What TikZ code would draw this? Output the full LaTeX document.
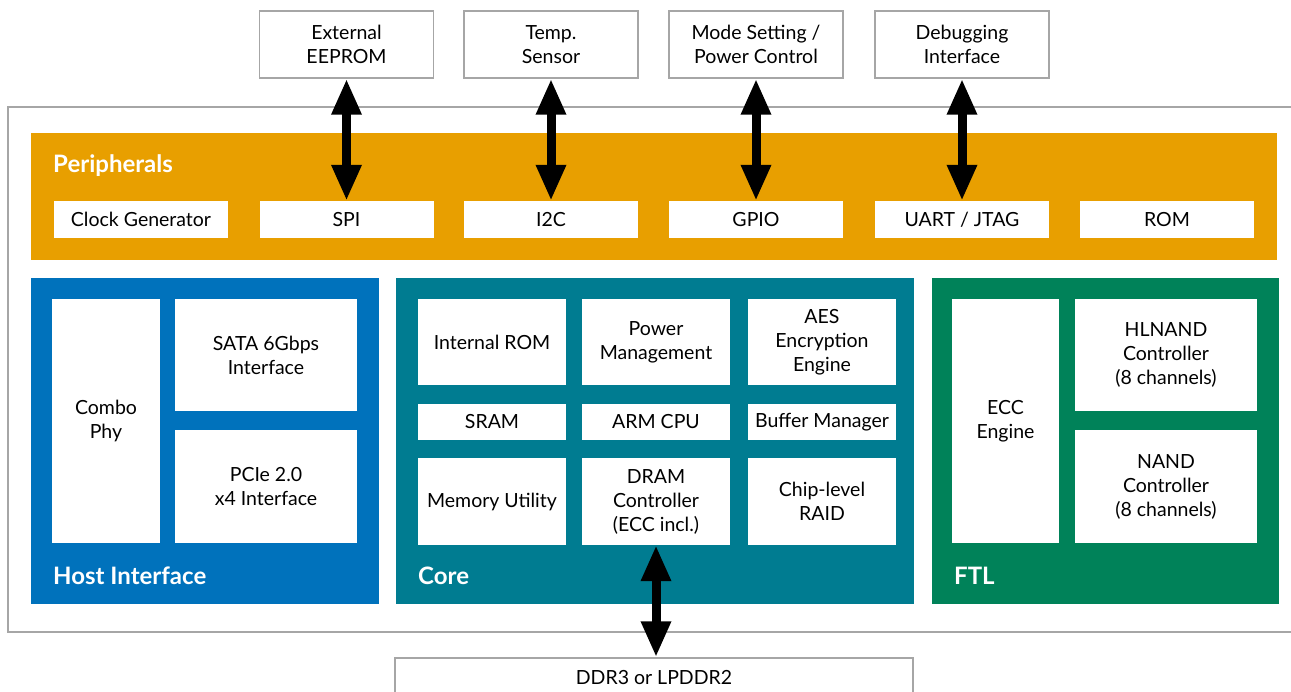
\documentclass[tikz,border=0pt]{standalone}
\usepackage{fontspec}
\setmainfont{Lato}
\definecolor{periorange}{RGB}{232, 159, 0}
\definecolor{hostblue}{RGB}{0, 114, 188}
\definecolor{coreteal}{RGB}{0, 124, 145}
\definecolor{ftlgreen}{RGB}{0, 130, 89}
\definecolor{framegray}{RGB}{166, 166, 166}
\usetikzlibrary{arrows.meta, positioning}

\tikzset{
  extbox/.style={draw=framegray, line width=1.5pt, fill=white, minimum width=174pt,
    minimum height=67pt, align=center, font=\fontsize{19.5}{24}\selectfont},
  unit/.style={fill=white, inner sep=0pt, align=center, font=\fontsize{19.5}{24}\selectfont},
  perunit/.style={unit, minimum width=174pt, minimum height=37pt},
  seclabel/.style={text=white, anchor=west, inner sep=0pt, font=\bfseries\fontsize{24}{28}\selectfont},
  bus/.style={line width=9pt, {Triangle[length=36pt,width=28pt]}-{Triangle[length=36pt,width=28pt]}}
}

\begin{document}
\begin{tikzpicture}[x=1pt, y=-1pt]
  \clip (0,0) rectangle (1291,692);
  \fill[white] (0,0) rectangle (1291,692);

  % outer chip frame
  \draw[framegray, line width=1.5pt] (8,107) rectangle (1310,632);

  % external devices
  \node[extbox] (eeprom) at (346.5,44.5) {External\\EEPROM};
  \node[extbox] (temp)   at (551,44.5)   {Temp.\\Sensor};
  \node[extbox] (mode)   at (756,44.5)   {Mode Setting /\\Power Control};
  \node[extbox] (debug)  at (962,44.5)   {Debugging\\Interface};

  % peripherals
  \fill[periorange] (31,133) rectangle (1277,260);
  \node[seclabel] (perilabel) at (53,166) {Peripherals};
  \node[perunit] (clock) at (141,219.5)    {Clock Generator};
  \node[perunit] (spi)   at (346.5,219.5)  {SPI};
  \node[perunit] (i2c)   at (551,219.5)    {I2C};
  \node[perunit] (gpio)  at (756,219.5)    {GPIO};
  \node[perunit] (uart)  at (962,219.5)    {UART / JTAG};
  \node[perunit] (rom)   at (1167,219.5)   {ROM};

  % host interface
  \fill[hostblue] (31,278) rectangle (379,604);
  \node[unit, minimum width=108pt, minimum height=244pt] (combo) at (106,421) {Combo\\Phy};
  \node[unit, minimum width=182pt, minimum height=112pt] (sata) at (266,355) {SATA 6Gbps\\Interface};
  \node[unit, minimum width=182pt, minimum height=113pt] (pcie) at (266,486.5) {PCIe 2.0\\x4 Interface};
  \node[seclabel] (hostlabel) at (53,576) {Host Interface};

  % core
  \fill[coreteal] (396,278) rectangle (914,604);
  \node[unit, minimum width=148pt, minimum height=86pt] (irom)  at (492,342) {Internal ROM};
  \node[unit, minimum width=148pt, minimum height=86pt] (power) at (656,342) {Power\\Management};
  \node[unit, minimum width=148pt, minimum height=86pt] (aes)   at (822,342) {AES\\Encryption\\Engine};
  \node[unit, minimum width=148pt, minimum height=36pt] (sram)  at (492,422) {SRAM};
  \node[unit, minimum width=148pt, minimum height=36pt] (cpu)   at (656,422) {ARM CPU};
  \node[unit, minimum width=148pt, minimum height=36pt] (buf)   at (822,422) {Buffer Manager};
  \node[unit, minimum width=148pt, minimum height=87pt] (memu)  at (492,501.5) {Memory Utility};
  \node[unit, minimum width=148pt, minimum height=87pt] (dram)  at (656,501.5) {DRAM\\Controller\\(ECC incl.)};
  \node[unit, minimum width=148pt, minimum height=87pt] (raid)  at (822,501.5) {Chip-level\\RAID};
  \node[seclabel] (corelabel) at (418,576) {Core};

  % FTL
  \fill[ftlgreen] (932,278) rectangle (1279,604);
  \node[unit, minimum width=107pt, minimum height=244pt] (ecc) at (1005.5,421) {ECC\\Engine};
  \node[unit, minimum width=182pt, minimum height=112pt] (hlnand) at (1166,355) {HLNAND\\Controller\\(8 channels)};
  \node[unit, minimum width=182pt, minimum height=113pt] (nand) at (1166,486.5) {NAND\\Controller\\(8 channels)};
  \node[seclabel] (ftllabel) at (954,576) {FTL};

  % external memory
  \node[extbox, minimum width=518pt, minimum height=40pt] (ddr) at (654,678) {DDR3 or LPDDR2};

  % buses
  \draw[bus] (eeprom.south) -- (eeprom.south |- spi.north);
  \draw[bus] (temp.south) -- (temp.south |- i2c.north);
  \draw[bus] (mode.south) -- (mode.south |- gpio.north);
  \draw[bus] (debug.south) -- (debug.south |- uart.north);
  \draw[bus] (dram.south) -- (dram.south |- ddr.north);
\end{tikzpicture}
\end{document}
